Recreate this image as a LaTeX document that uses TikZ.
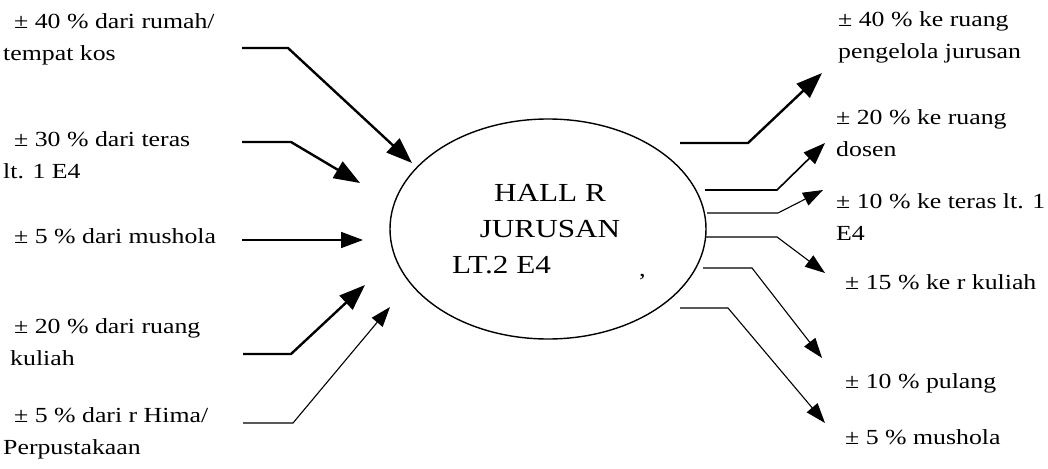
\documentclass[tikz,border=0pt]{standalone}
\usepackage{fontspec}
\setmainfont{Liberation Serif}[FakeStretch=1.2]
\usetikzlibrary{arrows.meta,shapes.geometric}
\tikzset{
  lbl/.style={anchor=base west, inner sep=0pt, align=left,
    font=\fontsize{21.5}{32}\selectfont},
  ctr/.style={anchor=base, inner sep=0pt, align=center,
    font=\fontsize{26}{35.5}\selectfont},
  thickarrow/.style={line width=2.4pt, -{Triangle[length=26pt,width=19pt]}},
  medarrow/.style={line width=1.6pt, -{Triangle[length=22pt,width=16pt]}},
  thinarrow/.style={line width=1.1pt, -{Triangle[length=20pt,width=14pt]}},
}
\begin{document}
\begin{tikzpicture}[x=1pt,y=-1pt]
\useasboundingbox (0,0) rectangle (1048,468);
% central ellipse
\node (hall) [draw, ellipse, line width=1.4pt, minimum width=316pt, minimum height=220pt] at (548,229) {};
\node (hallA) [ctr] at (550,237) {HALL R\\JURUSAN};
\node (hallB) [ctr, anchor=base west] at (452,273) {LT.2 E4};
\node (comma) [ctr, anchor=base west, font=\fontsize{22}{24}\selectfont] at (639,276) {,};
% left labels (anchor = baseline of last line)
\node (l1) [lbl] at (3,61)  {\hspace*{11pt}± 40 \% dari rumah/\\tempat kos};
\node (l2) [lbl] at (3,178) {\hspace*{11pt}± 30 \% dari teras\\lt. 1 E4};
\node (l3) [lbl] at (3,243) {\hspace*{11pt}± 5 \% dari mushola};
\node (l4) [lbl] at (3,365) {\hspace*{11pt}± 20 \% dari ruang\\\hspace*{7pt}kuliah};
\node (l5) [lbl] at (3,454) {\hspace*{11pt}± 5 \% dari r Hima/\\Perpustakaan};
% right labels
\node (r1) [lbl] at (838,59)  {± 40 \% ke ruang\\pengelola jurusan};
\node (r2) [lbl] at (836,156) {± 20 \% ke ruang\\dosen};
\node (r3) [lbl] at (836,240) {± 10 \% ke teras lt. 1\\E4};
\node (r4) [lbl] at (845,289) {± 15 \% ke r kuliah};
\node (r5) [lbl] at (845,388) {± 10 \% pulang};
\node (r6) [lbl] at (845,444) {± 5 \% mushola};
% connector coordinates
\coordinate (a1s) at (242,48);  \coordinate (a1b) at (288,48);  \coordinate (a1e) at (412,163);
\coordinate (a2s) at (242,142); \coordinate (a2b) at (291,142); \coordinate (a2e) at (360,183);
\coordinate (a3s) at (242,240); \coordinate (a3e) at (363,240);
\coordinate (a4s) at (243,354); \coordinate (a4b) at (291,354); \coordinate (a4e) at (365,285);
\coordinate (a5s) at (243,423); \coordinate (a5b) at (293,423); \coordinate (a5e) at (390,307);
\coordinate (b1s) at (680,143); \coordinate (b1b) at (748,143); \coordinate (b1e) at (822,73);
\coordinate (b2s) at (705,190); \coordinate (b2b) at (777,190); \coordinate (b2e) at (825,143);
\coordinate (b3s) at (707,213); \coordinate (b3b) at (778,213); \coordinate (b3e) at (823,190);
\coordinate (b4s) at (705,237); \coordinate (b4b) at (777,237); \coordinate (b4e) at (825,273);
\coordinate (b5s) at (703,268); \coordinate (b5b) at (752,268); \coordinate (b5e) at (822,358);
\coordinate (b6s) at (680,308); \coordinate (b6b) at (728,308); \coordinate (b6e) at (825,423);
% incoming
\draw[thickarrow] (a1s) -- (a1b) -- (a1e);
\draw[thickarrow] (a2s) -- (a2b) -- (a2e);
\draw[medarrow]   (a3s) -- (a3e);
\draw[thickarrow] (a4s) -- (a4b) -- (a4e);
\draw[thinarrow]  (a5s) -- (a5b) -- (a5e);
% outgoing
\draw[thickarrow] (b1s) -- (b1b) -- (b1e);
\draw[medarrow]   (b2s) -- (b2b) -- (b2e);
\draw[thinarrow]  (b3s) -- (b3b) -- (b3e);
\draw[thinarrow]  (b4s) -- (b4b) -- (b4e);
\draw[thinarrow]  (b5s) -- (b5b) -- (b5e);
\draw[thinarrow]  (b6s) -- (b6b) -- (b6e);
\end{tikzpicture}
\end{document}
